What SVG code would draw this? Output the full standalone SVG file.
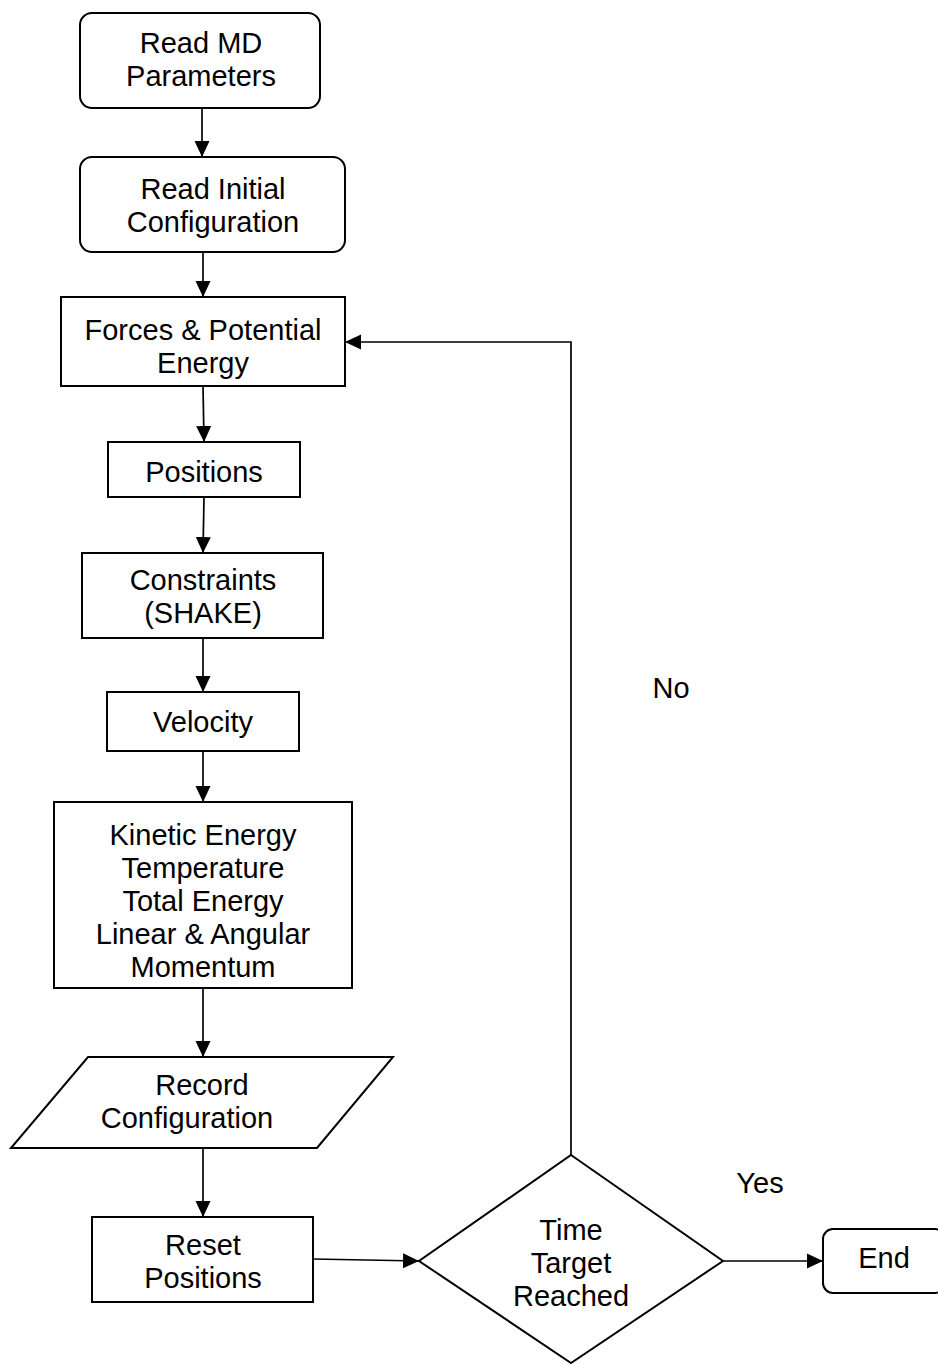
<svg xmlns="http://www.w3.org/2000/svg" width="938" height="1364" viewBox="0 0 938 1364">
<defs>
<style>
.box{fill:#fff;stroke:#000;stroke-width:2}
.lbl{font-family:"Liberation Sans",Arial,sans-serif;font-size:29px;fill:#000;text-anchor:middle}
.con{fill:none;stroke:#000;stroke-width:1.7}
</style>
<marker id="ah" markerUnits="userSpaceOnUse" markerWidth="18" markerHeight="16" refX="16" refY="8" orient="auto">
<path d="M0,0.5 L16,8 L0,15.5 Z" fill="#000"/>
</marker>
</defs>
<rect width="938" height="1364" fill="#fff"/>
<g id="connectors">
<line class="con" x1="202" y1="108" x2="202" y2="157" marker-end="url(#ah)"/>
<line class="con" x1="203" y1="252" x2="203" y2="297" marker-end="url(#ah)"/>
<line class="con" x1="203" y1="386" x2="204" y2="442" marker-end="url(#ah)"/>
<line class="con" x1="204" y1="497" x2="203" y2="553" marker-end="url(#ah)"/>
<line class="con" x1="203" y1="638" x2="203" y2="692" marker-end="url(#ah)"/>
<line class="con" x1="203" y1="751" x2="203" y2="802" marker-end="url(#ah)"/>
<line class="con" x1="203" y1="988" x2="203" y2="1057" marker-end="url(#ah)"/>
<line class="con" x1="203" y1="1148" x2="203" y2="1217" marker-end="url(#ah)"/>
<line class="con" x1="313" y1="1259" x2="419" y2="1261" marker-end="url(#ah)"/>
<line class="con" x1="723" y1="1261" x2="823" y2="1261" marker-end="url(#ah)"/>
<polyline class="con" points="571,1155 571,342 345,342" marker-end="url(#ah)"/>
<text class="lbl" x="671" y="698">No</text>
<text class="lbl" x="760" y="1193">Yes</text>
</g>
<g id="read-md">
<rect class="box" x="80" y="13" width="240" height="95" rx="12"/>
<text class="lbl" x="201" y="53">Read MD</text>
<text class="lbl" x="201" y="86">Parameters</text>
</g>
<g id="read-initial">
<rect class="box" x="80" y="157" width="265" height="95" rx="12"/>
<text class="lbl" x="213" y="199">Read Initial</text>
<text class="lbl" x="213" y="232">Configuration</text>
</g>
<g id="forces">
<rect class="box" x="61" y="297" width="284" height="89"/>
<text class="lbl" x="203" y="340">Forces &amp; Potential</text>
<text class="lbl" x="203" y="373">Energy</text>
</g>
<g id="positions">
<rect class="box" x="108" y="442" width="192" height="55"/>
<text class="lbl" x="204" y="482">Positions</text>
</g>
<g id="constraints">
<rect class="box" x="82" y="553" width="241" height="85"/>
<text class="lbl" x="203" y="590">Constraints</text>
<text class="lbl" x="203" y="623">(SHAKE)</text>
</g>
<g id="velocity">
<rect class="box" x="107" y="692" width="192" height="59"/>
<text class="lbl" x="203" y="732">Velocity</text>
</g>
<g id="kinetic">
<rect class="box" x="54" y="802" width="298" height="186"/>
<text class="lbl" x="203" y="845">Kinetic Energy</text>
<text class="lbl" x="203" y="878">Temperature</text>
<text class="lbl" x="203" y="911">Total Energy</text>
<text class="lbl" x="203" y="944">Linear &amp; Angular</text>
<text class="lbl" x="203" y="977">Momentum</text>
</g>
<g id="record">
<polygon class="box" points="88,1057 393,1057 317,1148 11,1148"/>
<text class="lbl" x="202" y="1095">Record</text>
<text class="lbl" x="187" y="1128">Configuration</text>
</g>
<g id="reset">
<rect class="box" x="92" y="1217" width="221" height="85"/>
<text class="lbl" x="203" y="1255">Reset</text>
<text class="lbl" x="203" y="1288">Positions</text>
</g>
<g id="decision">
<polygon class="box" points="571,1155 723,1261 571,1363 419,1261"/>
<text class="lbl" x="571" y="1240">Time</text>
<text class="lbl" x="571" y="1273">Target</text>
<text class="lbl" x="571" y="1306">Reached</text>
</g>
<g id="end">
<rect class="box" x="823" y="1229" width="122" height="64" rx="10"/>
<text class="lbl" x="884" y="1268">End</text>
</g>
</svg>
